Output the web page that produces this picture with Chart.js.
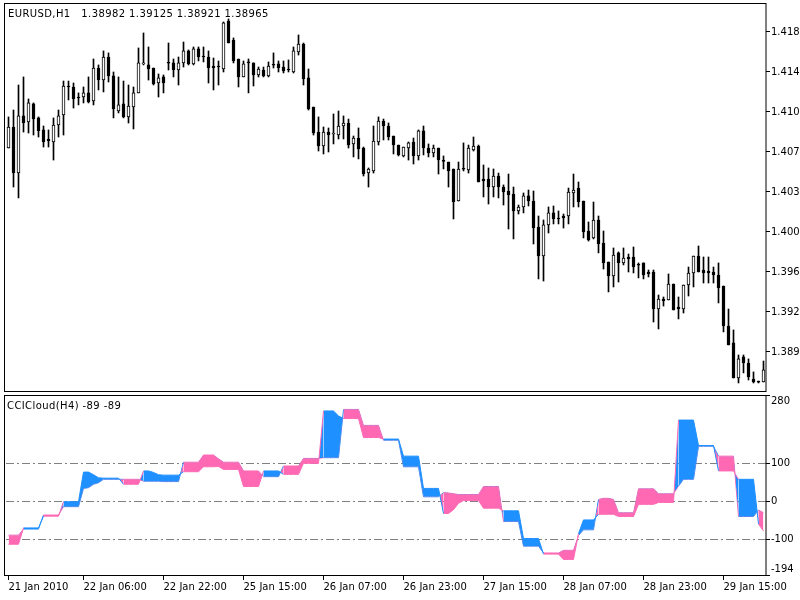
<!DOCTYPE html>
<html>
<head>
<meta charset="utf-8">
<title>EURUSD,H1 - CCICloud(H4)</title>
<script src="https://cdn.jsdelivr.net/npm/chart.js@4/dist/chart.umd.min.js"></script>
<style>
  body { margin: 0; background: #fff; }
  #contenedor { position: relative; width: 800px; height: 600px; overflow: hidden; }
  canvas { position: absolute; left: 0; }
  #graficoPrecio { top: 0; }
  #graficoCci { top: 393px; }
  .etiqueta { position: absolute; font: 10px 'DejaVu Sans', sans-serif; color: #000; white-space: pre; line-height: 12px; letter-spacing: 0.4px; z-index: 2; }
</style>
</head>
<body>
<div id="contenedor">
  <canvas id="graficoPrecio" width="800" height="393"></canvas>
  <canvas id="graficoCci" width="800" height="207"></canvas>
  <div class="etiqueta" style="left:8px; top:8px">EURUSD,H1   1.38982 1.39125 1.38921 1.38965</div>
  <div class="etiqueta" style="left:7px; top:400px">CCICloud(H4) -89 -89</div>
</div>
<script>
// Velas H1 (apertura, maximo, minimo, cierre)
const aperturas = [
  1.40721, 1.40912, 1.40494, 1.41012, 1.40957, 1.41121, 1.40994, 1.40885, 1.40803, 1.40776,
  1.40930, 1.41021, 1.41284, 1.41275, 1.41184, 1.41184, 1.41221, 1.41148, 1.41447, 1.41338,
  1.41547, 1.41375, 1.41057, 1.41121, 1.41003, 1.41093, 1.41221, 1.41484, 1.41475, 1.41447,
  1.41311, 1.41366, 1.41493, 1.41493, 1.41429, 1.41493, 1.41602, 1.41484, 1.41620, 1.41556,
  1.41547, 1.41465, 1.41465, 1.41438, 1.41874, 1.41701, 1.41529, 1.41366, 1.41502, 1.41493,
  1.41384, 1.41429, 1.41375, 1.41475, 1.41484, 1.41456, 1.41438, 1.41411, 1.41593, 1.41665,
  1.41357, 1.41093, 1.40866, 1.40739, 1.40866, 1.40848, 1.40839, 1.40921, 1.40948, 1.40758,
  1.40812, 1.40721, 1.40494, 1.40513, 1.40776, 1.40966, 1.40921, 1.40830, 1.40748, 1.40649,
  1.40721, 1.40776, 1.40649, 1.40876, 1.40721, 1.40676, 1.40721, 1.40603, 1.40594, 1.40531,
  1.40240, 1.40531, 1.40522, 1.40703, 1.40739, 1.40440, 1.40440, 1.40367, 1.40467, 1.40367,
  1.40331, 1.40304, 1.40150, 1.40186, 1.40286, 1.40240, 1.40004, 1.39741, 1.40023, 1.40132,
  1.40086, 1.40104, 1.40104, 1.40313, 1.40358, 1.40240, 1.39968, 1.39905, 1.40068, 1.39859,
  1.39687, 1.39560, 1.39769, 1.39678, 1.39732, 1.39732, 1.39660, 1.39678, 1.39596, 1.39596,
  1.39260, 1.39351, 1.39342, 1.39487, 1.39278, 1.39260, 1.39478, 1.39587, 1.39741, 1.39614,
  1.39605, 1.39596, 1.39569, 1.39469, 1.39106, 1.38952, 1.38634, 1.38825, 1.38770, 1.38625,
  1.38598, 1.38598
];
const maximos = [
  1.41003, 1.41066, 1.41293, 1.41366, 1.41166, 1.41130, 1.41003, 1.40921, 1.40885, 1.40994,
  1.41066, 1.41329, 1.41329, 1.41311, 1.41221, 1.41275, 1.41366, 1.41529, 1.41475, 1.41602,
  1.41584, 1.41411, 1.41366, 1.41329, 1.41293, 1.41275, 1.41629, 1.41765, 1.41638, 1.41447,
  1.41393, 1.41384, 1.41674, 1.41529, 1.41547, 1.41683, 1.41611, 1.41638, 1.41638, 1.41638,
  1.41602, 1.41538, 1.41511, 1.41865, 1.41892, 1.41720, 1.41529, 1.41511, 1.41529, 1.41493,
  1.41456, 1.41456, 1.41502, 1.41584, 1.41511, 1.41511, 1.41520, 1.41638, 1.41747, 1.41674,
  1.41438, 1.41093, 1.41003, 1.40912, 1.40903, 1.41030, 1.41057, 1.41012, 1.40984, 1.40830,
  1.40903, 1.40730, 1.40540, 1.40921, 1.41003, 1.40984, 1.40948, 1.40830, 1.40748, 1.40730,
  1.40776, 1.40812, 1.40885, 1.40921, 1.40758, 1.40748, 1.40721, 1.40649, 1.40594, 1.40531,
  1.40594, 1.40767, 1.40748, 1.40821, 1.40748, 1.40567, 1.40540, 1.40531, 1.40494, 1.40386,
  1.40485, 1.40367, 1.40204, 1.40313, 1.40340, 1.40331, 1.40104, 1.40068, 1.40186, 1.40195,
  1.40150, 1.40122, 1.40358, 1.40485, 1.40413, 1.40240, 1.40050, 1.40231, 1.40104, 1.39968,
  1.39687, 1.39814, 1.39778, 1.39814, 1.39759, 1.39823, 1.39678, 1.39678, 1.39614, 1.39614,
  1.39387, 1.39369, 1.39578, 1.39487, 1.39369, 1.39478, 1.39641, 1.39741, 1.39832, 1.39732,
  1.39732, 1.39641, 1.39678, 1.39469, 1.39260, 1.39070, 1.38843, 1.38843, 1.38807, 1.38689,
  1.38607, 1.38788
];
const minimos = [
  1.40721, 1.40367, 1.40268, 1.40866, 1.40857, 1.40839, 1.40821, 1.40730, 1.40730, 1.40612,
  1.40821, 1.40839, 1.41157, 1.41084, 1.41112, 1.41130, 1.41130, 1.41112, 1.41248, 1.41230,
  1.41320, 1.40994, 1.41039, 1.40994, 1.40948, 1.40894, 1.41221, 1.41475, 1.41338, 1.41293,
  1.41184, 1.41221, 1.41429, 1.41366, 1.41293, 1.41456, 1.41475, 1.41475, 1.41511, 1.41502,
  1.41311, 1.41248, 1.41293, 1.41411, 1.41674, 1.41493, 1.41275, 1.41366, 1.41221, 1.41284,
  1.41366, 1.41366, 1.41366, 1.41447, 1.41411, 1.41402, 1.41411, 1.41402, 1.41565, 1.41293,
  1.41066, 1.40839, 1.40694, 1.40667, 1.40685, 1.40758, 1.40803, 1.40803, 1.40721, 1.40640,
  1.40622, 1.40467, 1.40367, 1.40494, 1.40748, 1.40794, 1.40794, 1.40667, 1.40649, 1.40640,
  1.40612, 1.40576, 1.40612, 1.40658, 1.40640, 1.40640, 1.40485, 1.40531, 1.40367, 1.40077,
  1.40240, 1.40513, 1.40494, 1.40694, 1.40413, 1.40277, 1.40213, 1.40277, 1.40268, 1.40204,
  1.39986, 1.39896, 1.40122, 1.40132, 1.40195, 1.39850, 1.39533, 1.39514, 1.39950, 1.40032,
  1.40032, 1.39995, 1.40032, 1.40186, 1.40186, 1.39905, 1.39877, 1.39896, 1.39769, 1.39623,
  1.39415, 1.39460, 1.39505, 1.39660, 1.39596, 1.39587, 1.39542, 1.39533, 1.39551, 1.39142,
  1.39079, 1.39287, 1.39342, 1.39251, 1.39170, 1.39224, 1.39378, 1.39460, 1.39596, 1.39496,
  1.39496, 1.39496, 1.39315, 1.39052, 1.38934, 1.38634, 1.38589, 1.38680, 1.38616, 1.38589,
  1.38589, 1.38598
];
const cierres = [
  1.40912, 1.40494, 1.41012, 1.40948, 1.41130, 1.40984, 1.40876, 1.40776, 1.40785, 1.40930,
  1.41012, 1.41284, 1.41275, 1.41166, 1.41175, 1.41221, 1.41139, 1.41447, 1.41338, 1.41547,
  1.41375, 1.41075, 1.41112, 1.41003, 1.41102, 1.41221, 1.41493, 1.41487, 1.41438, 1.41302,
  1.41357, 1.41311, 1.41490, 1.41429, 1.41493, 1.41602, 1.41484, 1.41620, 1.41547, 1.41547,
  1.41447, 1.41447, 1.41456, 1.41856, 1.41674, 1.41511, 1.41366, 1.41484, 1.41493, 1.41384,
  1.41438, 1.41375, 1.41465, 1.41472, 1.41447, 1.41420, 1.41429, 1.41602, 1.41665, 1.41348,
  1.41075, 1.40857, 1.40739, 1.40866, 1.40839, 1.40857, 1.40921, 1.40948, 1.40748, 1.40812,
  1.40712, 1.40485, 1.40531, 1.40785, 1.40966, 1.40921, 1.40821, 1.40748, 1.40658, 1.40730,
  1.40767, 1.40649, 1.40876, 1.40721, 1.40676, 1.40721, 1.40612, 1.40600, 1.40513, 1.40231,
  1.40531, 1.40528, 1.40721, 1.40739, 1.40413, 1.40422, 1.40367, 1.40467, 1.40367, 1.40322,
  1.40295, 1.40150, 1.40186, 1.40286, 1.40240, 1.39995, 1.39741, 1.40023, 1.40132, 1.40077,
  1.40077, 1.40086, 1.40322, 1.40340, 1.40231, 1.39959, 1.39886, 1.40068, 1.39850, 1.39678,
  1.39560, 1.39750, 1.39678, 1.39723, 1.39714, 1.39641, 1.39657, 1.39569, 1.39578, 1.39260,
  1.39351, 1.39333, 1.39487, 1.39251, 1.39260, 1.39478, 1.39587, 1.39741, 1.39596, 1.39587,
  1.39587, 1.39569, 1.39451, 1.39106, 1.38934, 1.38634, 1.38807, 1.38770, 1.38643, 1.38598,
  1.38595, 1.38707
];

// Nube CCI (H4) sobre barras H1: azul cuando cciA > cciB, rosa al reves
const cciA = [
  -113, -113, -113, -70, -70, -70, -70, -39, -39, -39,
  -39, -1, -1, -1, -1, 77, 77, 70, 62, 61,
  61, 61, 61, 45, 45, 45, 45, 80, 80, 76,
  70, 69, 69, 69, 69, 78, 78, 78, 78, 91,
  91, 91, 92, 84, 84, 84, 84, 39, 39, 39,
  39, 80, 80, 80, 80, 71, 71, 71, 71, 100,
  100, 100, 100, 238, 238, 238, 225, 218, 218, 218,
  218, 168, 168, 168, 168, 164, 164, 164, 164, 119,
  119, 119, 119, 34, 34, 34, 34, -32, -32, -22,
  -5, 2, 2, 2, 2, -18, -18, -18, -18, -25,
  -25, -25, -25, -98, -98, -98, -98, -139, -139, -139,
  -139, -153, -153, -153, -85, -49, -49, -49, -34, -34,
  -34, -34, -40, -40, -40, -40, -8, -8, -8, -8,
  -3, -3, -3, -3, 214, 214, 214, 214, 147, 147,
  147, 147, 80, 80, 80, 80, 58, 58, 58, 58,
  -60, -78
];
const cciB = [
  -89, -89, -89, -73, -73, -73, -73, -36, -36, -36,
  -36, -14, -14, -14, -14, 34, 36, 45, 49, 58,
  58, 58, 58, 58, 58, 58, 58, 53, 53, 53,
  53, 52, 52, 52, 52, 103, 103, 103, 103, 122,
  122, 122, 112, 103, 103, 103, 103, 80, 80, 80,
  80, 65, 65, 65, 65, 93, 93, 93, 93, 113,
  113, 113, 113, 115, 115, 115, 115, 242, 242, 242,
  242, 200, 200, 200, 200, 161, 161, 161, 161, 91,
  91, 91, 91, 12, 12, 12, 12, 23, 22, 20,
  18, 18, 18, 18, 18, 39, 39, 39, 39, -53,
  -53, -53, -53, -118, -118, -118, -118, -136, -136, -136,
  -136, -129, -129, -129, -90, -75, -75, -75, 5, 8,
  8, 5, -30, -30, -30, -30, 33, 33, 33, 33,
  20, 20, 20, 20, 40, 58, 58, 58, 145, 145,
  145, 145, 119, 119, 119, 119, -40, -40, -40, -40,
  -23, -30
];

// Ejes
const precioMin = 1.38516;
const precioMax = 1.42037;
const nivelesPrecio = [1.38870, 1.39233, 1.39596, 1.39959, 1.40322, 1.40685, 1.41048, 1.41411, 1.41774];
const cciMin = -194;
const cciMax = 280;
const cciTicks = [280, 100, 0, -100, -194];
const cciNiveles = [100, 0, -100];
const barrasFecha = [0, 15, 31, 47, 63, 79, 95, 111, 127, 143];
const textosFecha = ['21 Jan 2010', '22 Jan 06:00', '22 Jan 22:00', '25 Jan 15:00', '26 Jan 07:00',
                     '26 Jan 23:00', '27 Jan 15:00', '28 Jan 07:00', '28 Jan 23:00', '29 Jan 15:00'];

const AZUL = 'rgb(30,144,255)';
const ROSA = 'rgb(255,105,180)';
const TRANSPARENTE = 'rgba(0,0,0,0)';

Chart.defaults.font.family = "'DejaVu Sans', sans-serif";
Chart.defaults.font.size = 10;
Chart.defaults.color = '#000';

const barras = cierres.map((_, i) => i);

// Marco negro alrededor de cada panel
const marco = {
    id: 'marco',
    afterDraw(chart) {
        const { ctx, chartArea: a } = chart;
        ctx.save();
        ctx.strokeStyle = '#000';
        ctx.lineWidth = 1;
        const x0 = Math.floor(a.left) - 2 + 0.5;
        ctx.strokeRect(x0, a.top + 0.5, a.right - x0, a.bottom - a.top);
        ctx.restore();
    }
};

// Panel de precio: velas con barras flotantes
new Chart(document.getElementById('graficoPrecio'), {
    type: 'bar',
    data: {
        labels: barras,
        datasets: [
            {
                label: 'mecha',
                data: barras.map(i => [minimos[i], maximos[i]]),
                backgroundColor: '#000',
                borderWidth: 0,
                barThickness: 1,
                grouped: false,
                order: 2
            },
            {
                label: 'cuerpo',
                data: barras.map(i => [aperturas[i], cierres[i]]),
                backgroundColor: barras.map(i => cierres[i] >= aperturas[i] ? '#fff' : '#000'),
                borderColor: '#000',
                borderWidth: 1,
                borderSkipped: false,
                barThickness: 3,
                minBarLength: 1,
                grouped: false,
                order: 1
            }
        ]
    },
    options: {
        responsive: false,
        maintainAspectRatio: false,
        devicePixelRatio: 1,
        animation: false,
        events: [],
        layout: { padding: { left: 6, top: 3, right: 0, bottom: 2 } },
        plugins: { legend: { display: false }, tooltip: { enabled: false } },
        scales: {
            x: { type: 'category', display: false, offset: true },
            y: {
                position: 'right',
                min: precioMin,
                max: precioMax,
                afterBuildTicks: s => { s.ticks = nivelesPrecio.map(v => ({ value: v })); },
                afterFit: s => { s.width = 34; s.paddingTop = 0; s.paddingBottom = 0; },
                ticks: { callback: v => Number(v).toFixed(3), padding: 1, color: '#000' },
                grid: { drawOnChartArea: false, tickLength: 4, tickColor: '#000' },
                border: { display: false }
            }
        }
    },
    plugins: [marco]
});

// Panel CCICloud
new Chart(document.getElementById('graficoCci'), {
    type: 'line',
    data: {
        labels: barras,
        datasets: [
            {
                label: 'cciA',
                data: cciA,
                borderWidth: 1,
                pointRadius: 0,
                tension: 0,
                fill: { target: 1, above: AZUL, below: ROSA },
                segment: { borderColor: c => cciA[c.p0DataIndex] >= cciB[c.p0DataIndex] ? AZUL : ROSA }
            },
            {
                label: 'cciB',
                data: cciB,
                borderWidth: 1,
                pointRadius: 0,
                tension: 0,
                fill: false,
                segment: { borderColor: c => cciA[c.p0DataIndex] >= cciB[c.p0DataIndex] ? AZUL : ROSA }
            }
        ]
    },
    options: {
        responsive: false,
        maintainAspectRatio: false,
        devicePixelRatio: 1,
        animation: false,
        events: [],
        layout: { padding: { left: 6, top: 2, right: 0, bottom: 0 } },
        plugins: { legend: { display: false }, tooltip: { enabled: false } },
        scales: {
            x: {
                type: 'category',
                offset: true,
                afterFit: s => { s.height = 25; s.paddingLeft = 0; s.paddingRight = 0; },
                ticks: {
                    autoSkip: false,
                    maxRotation: 0,
                    minRotation: 0,
                    align: 'start',
                    padding: 1,
                    color: '#000',
                    callback: (v, i) => {
                        const k = barrasFecha.indexOf(i);
                        return k >= 0 ? textosFecha[k] : '';
                    }
                },
                grid: {
                    offset: false,
                    drawOnChartArea: false,
                    tickLength: 5,
                    tickColor: c => barrasFecha.includes(c.index) ? '#000' : TRANSPARENTE
                },
                border: { display: false }
            },
            y: {
                position: 'right',
                min: cciMin,
                max: cciMax,
                z: 1, // niveles por encima de la nube, como en MT4
                afterBuildTicks: s => { s.ticks = cciTicks.map(v => ({ value: v })); },
                afterFit: s => { s.width = 34; s.paddingTop = 0; s.paddingBottom = 0; },
                ticks: {
                    padding: 1,
                    color: '#000',
                    callback: v => v === cciMax ? ['', String(v)] : (v === cciMin ? [String(v), ''] : String(v))
                },
                grid: {
                    color: c => c.tick && cciNiveles.includes(c.tick.value) ? '#808080' : TRANSPARENTE,
                    tickColor: '#000',
                    tickLength: 4
                },
                border: { display: false, dash: [8, 3, 2, 3] }
            }
        }
    },
    plugins: [marco]
});
</script>
</body>
</html>
